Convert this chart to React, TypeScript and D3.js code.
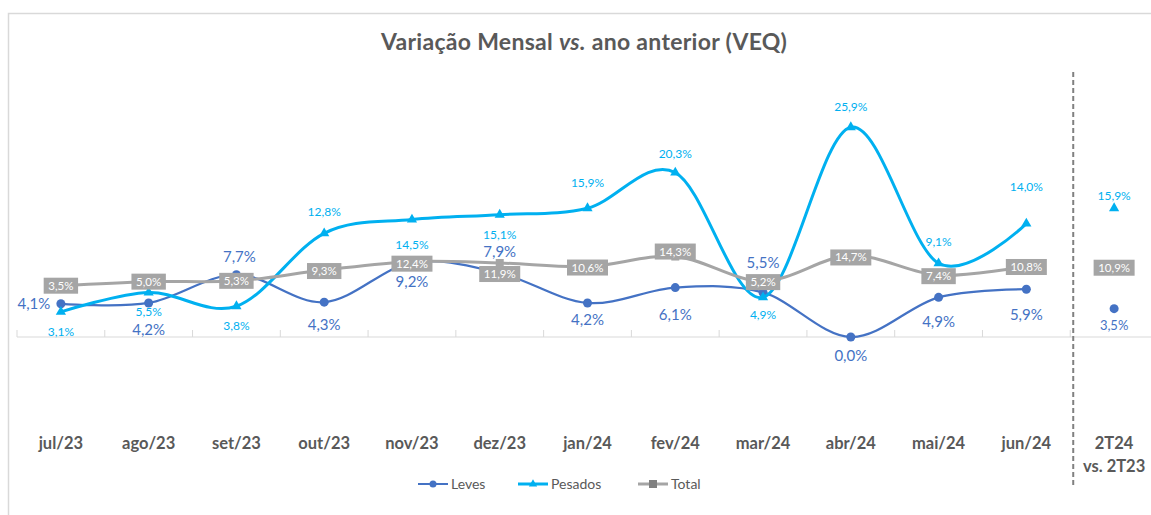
import React from "react";
import * as d3 from "d3";

const categories = ["jul/23", "ago/23", "set/23", "out/23", "nov/23", "dez/23", "jan/24", "fev/24", "mar/24", "abr/24", "mai/24", "jun/24", "2T24|vs. 2T23"];
const leves = [4.1, 4.2, 7.7, 4.3, 9.2, 7.9, 4.2, 6.1, 5.5, 0.0, 4.9, 5.9, 3.5];
const pesados = [3.1, 5.5, 3.8, 12.8, 14.5, 15.1, 15.9, 20.3, 4.9, 25.9, 9.1, 14.0, 15.9];
const total = [3.5, 5.0, 5.3, 9.3, 12.4, 11.9, 10.6, 14.3, 5.2, 14.7, 7.4, 10.8, 10.9];
const seriesNames = ["Leves", "Pesados", "Total"];

// label placement offsets (style only)
const levesLabelDx = [-27, 0, 3, 0, 0, 0, 0, 0, 0, 0, 0, 0, 0];
const levesLabelDy = [0, 27, -18, 23, 20, -21, 17, 27, -29, 19, 25, 26, 16];
const pesadosLabelDy = [20, 20, 20, -21, 25, 20, -25, -19, 18, -20, -21, -37, -12];
const totalLabelDy = [0, 0, 0, 1, 2, 11, 1, -5, 1, 2, 1, 1, 2];

const W = 1151;
const H = 515;
const FONT = "Lato, 'Open Sans', sans-serif";
const C_LEVES = "#4472C4";
const C_PES = "#00B0F0";
const C_TOT = "#A5A5A5";
const C_TXT = "#595959";

const fmt = (v: number) => v.toFixed(1).replace(".", ",") + "%";

export default function App() {
  const x = d3.scalePoint<string>().domain(categories).range([17, 1158]).padding(0.5);
  const y = d3.scaleLinear().domain([-10, 30]).range([418, 94]);
  const y2 = d3.scaleLinear().domain([-45.5, 74.5]).range([418, 94]);
  const step = x.step();
  const n = categories.length;
  const mainIdx = d3.range(n - 1);
  const last = n - 1;

  const line = d3
    .line<number>()
    .x((i) => x(categories[i])!)
    .curve(d3.curveCardinal.tension(0));

  const levesPath = line.y((i) => y(leves[i]))(mainIdx)!;
  const pesPath = line.y((i) => y(pesados[i]))(mainIdx)!;
  const totPath = line.y((i) => y2(total[i]))(mainIdx)!;

  const axisY = y(0);
  const tri = d3.symbol(d3.symbolTriangle, 45)()!;
  const triSmall = d3.symbol(d3.symbolTriangle, 30)()!;
  const dashX = x(categories[last - 1])! + step / 2 + 3;

  const legendItems = [
    { name: seriesNames[0], x: 418, color: C_LEVES, kind: "circle" },
    { name: seriesNames[1], x: 518, color: C_PES, kind: "tri" },
    { name: seriesNames[2], x: 638, color: C_TOT, kind: "square" },
  ];

  return (
    <svg width={W} height={H} style={{ display: "block", position: "absolute", left: 0, top: 0 }} fontFamily={FONT}>
      <rect x={0} y={0} width={W} height={H} fill="#fff" />
      <rect x={8.5} y={13.5} width={W + 20} height={H + 20} fill="none" stroke="#D9D9D9" strokeWidth={1.5} />
      <text x={584} y={50} textAnchor="middle" fontSize={23} fontWeight="bold" fill={C_TXT} letterSpacing={0.3}>
        Variação Mensal <tspan fontStyle="italic">vs.</tspan> ano anterior (VEQ)
      </text>

      {/* axis line and ticks */}
      <line x1={17} x2={1158} y1={axisY} y2={axisY} stroke="#D9D9D9" strokeWidth={1} />
      {d3.range(n + 1).map((k) => {
        const tx = 17 + k * step;
        return <line key={k} x1={tx} x2={tx} y1={axisY - 7} y2={axisY} stroke="#D9D9D9" strokeWidth={1} />;
      })}

      {/* dashed separator */}
      <line x1={dashX} x2={dashX} y1={72} y2={485} stroke="#808080" strokeWidth={2} strokeDasharray="5,3" />

      {/* category labels */}
      {categories.map((c) => {
        const parts = c.split("|");
        return (
          <text key={c} x={x(c)!} y={449} textAnchor="middle" fontSize={16.5} fontWeight="bold" fill={C_TXT}>
            {parts.map((p, j) => (
              <tspan key={j} x={x(c)!} dy={j === 0 ? 0 : 23}>
                {p}
              </tspan>
            ))}
          </text>
        );
      })}

      {/* Leves */}
      <path d={levesPath} fill="none" stroke={C_LEVES} strokeWidth={2.25} />
      {leves.map((v, i) => (
        <circle key={i} cx={x(categories[i])!} cy={y(v)} r={4.5} fill={C_LEVES} />
      ))}

      {/* Pesados */}
      <path d={pesPath} fill="none" stroke={C_PES} strokeWidth={3} />
      {pesados.map((v, i) => (
        <path key={i} d={tri} transform={`translate(${x(categories[i])},${y(v)})`} fill={C_PES} />
      ))}

      {/* Total */}
      <path d={totPath} fill="none" stroke={C_TOT} strokeWidth={3} />
      {total.map((v, i) => (
        <rect key={i} x={x(categories[i])! - 4} y={y2(v) - 4} width={8} height={8} fill={C_TOT} />
      ))}

      {/* Leves labels */}
      {leves.map((v, i) => (
        <text
          key={i}
          x={x(categories[i])! + levesLabelDx[i]}
          y={y(v) + levesLabelDy[i] + 5}
          textAnchor="middle"
          fontSize={i === last ? 13 : 15}
          fill={C_LEVES}
        >
          {fmt(v)}
        </text>
      ))}

      {/* Pesados labels */}
      {pesados.map((v, i) => (
        <text
          key={i}
          x={x(categories[i])!}
          y={y(v) + pesadosLabelDy[i] + 4}
          textAnchor="middle"
          fontSize={12}
          fill={C_PES}
        >
          {fmt(v)}
        </text>
      ))}

      {/* Total labels as boxes */}
      {total.map((v, i) => {
        const label = fmt(v);
        const w = label.length * 6.6 + 8;
        const cx = x(categories[i])!;
        const cy = y2(v) + totalLabelDy[i];
        return (
          <g key={i}>
            <rect x={cx - w / 2} y={cy - 8} width={w} height={16} fill={C_TOT} />
            <text x={cx} y={cy + 4} textAnchor="middle" fontSize={11.5} fill="#fff">
              {label}
            </text>
          </g>
        );
      })}

      {/* legend */}
      {legendItems.map((it) => (
        <g key={it.name}>
          <line x1={it.x} x2={it.x + 30} y1={484} y2={484} stroke={it.color} strokeWidth={it.kind === "circle" ? 2 : 3} />
          {it.kind === "circle" && <circle cx={it.x + 15} cy={484} r={3.5} fill={it.color} />}
          {it.kind === "tri" && <path d={triSmall} transform={`translate(${it.x + 15},${484})`} fill={it.color} />}
          {it.kind === "square" && <rect x={it.x + 11} y={480} width={8} height={8} fill="#808080" />}
          <text x={it.x + 33} y={489} fontSize={14} fill={C_TXT}>
            {it.name}
          </text>
        </g>
      ))}
    </svg>
  );
}
